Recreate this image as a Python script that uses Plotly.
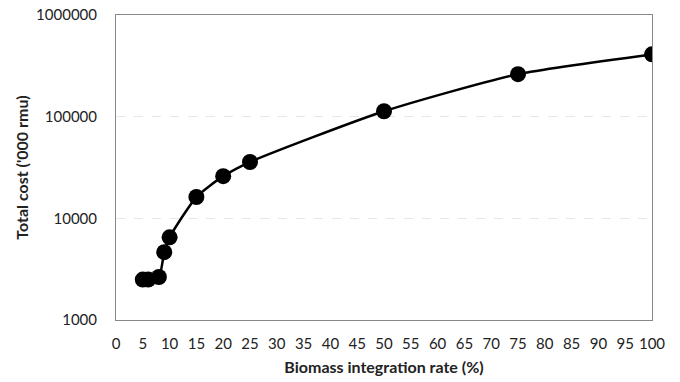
import plotly.graph_objects as go

rate = [5, 6, 8, 9, 10, 15, 20, 25, 50, 75, 100]
cost = [2500, 2500, 2650, 4650, 6500, 16200, 26000, 35800, 113000, 262000, 410000]
x_ticks = list(range(0, 101, 5))
y_ticks = [1000, 10000, 100000, 1000000]

fig = go.Figure()
fig.add_trace(go.Scatter(
    x=rate, y=cost, mode="lines+markers",
    line=dict(color="black", width=2.5, shape="spline", smoothing=0.6),
    marker=dict(color="black", size=16),
    showlegend=False,
))

font = "Lato, 'Open Sans', sans-serif"
fig.update_layout(
    width=680, height=382,
    margin=dict(l=116, r=28, t=15, b=62),
    paper_bgcolor="white", plot_bgcolor="white",
    font=dict(family=font, size=15, color="#222"),
    xaxis=dict(
        range=[0, 100], tickvals=x_ticks, ticktext=[str(v) for v in x_ticks],
        showgrid=False, zeroline=False, showline=True, linecolor="#888", linewidth=1,
        mirror=True, ticks="", ticklabelstandoff=10, automargin=False,
        title=dict(text="<b>Biomass integration rate (%)</b>", font=dict(size=16), standoff=10),
    ),
    yaxis=dict(
        type="log", range=[3, 6], tickvals=y_ticks, ticktext=[str(v) for v in y_ticks],
        showgrid=True, gridcolor="#e6e6e6", griddash="dash", gridwidth=1,
        zeroline=False, showline=True, linecolor="#888", linewidth=1, mirror=True,
        ticks="", ticklabelstandoff=15, automargin=False,
        title=dict(text="<b>Total cost ('000 rmu)</b>", font=dict(size=16), standoff=3),
    ),
)
fig.write_html("out.html")
